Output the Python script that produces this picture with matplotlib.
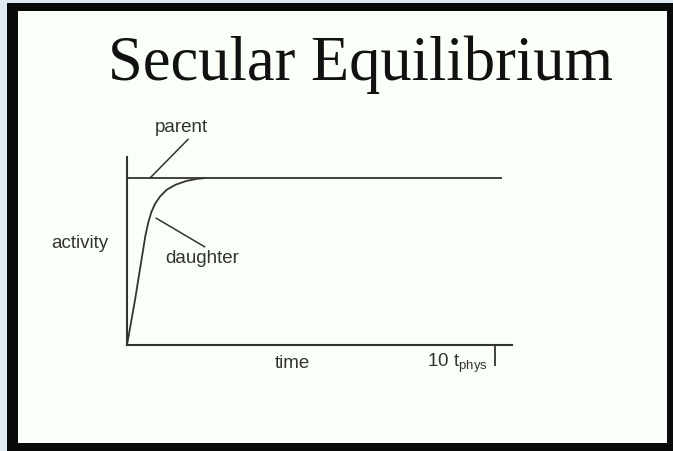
import matplotlib
matplotlib.use("Agg")
import matplotlib.pyplot as plt
from matplotlib.patches import Rectangle

# ---- data (time in units of t_phys, activity relative to parent) ----
parent_t = [0.0, 10.2]
parent_a = [1.0, 1.0]
daughter_t = [0.0, 0.217, 0.50, 0.58, 0.66, 0.76, 0.90, 1.08, 1.32, 1.62, 1.90, 2.12]
daughter_a = [0.0, 0.269, 0.655, 0.735, 0.795, 0.845, 0.890, 0.930, 0.960, 0.983, 0.995, 1.0]
end_tick = [10]
title = "Secular Equilibrium"
ylabel = "activity"
xlabel = "time"
end_label = r"10 t$_{\mathregular{phys}}$"

W, H = 673, 451
fig = plt.figure(figsize=(W / 100, H / 100), dpi=100)
fig.patch.set_facecolor("#dfe9f2")

def px_rect(x0, y0, x1, y1, color):
    fig.patches.append(Rectangle((x0 / W, 1 - y1 / H), (x1 - x0) / W, (y1 - y0) / H,
                                 transform=fig.transFigure, facecolor=color,
                                 edgecolor="none", zorder=-10))

px_rect(7, 3, 673, 451, "#0a0a0a")
px_rect(18, 11, 667, 443, "#fafff7")

fig.text(360 / W, 1 - 80 / H, title, ha="center", va="baseline",
         family="Liberation Serif", fontsize=45, color="#111111")

# axes: x 0 -> px 127, 10 -> px 495 ; y 0 -> px 345, 1 -> px 178
x0p, x1p, y0p, y1p = 127, 512, 345, 157
ax = fig.add_axes([x0p / W, 1 - y0p / H, (x1p - x0p) / W, (y0p - y1p) / H])
ax.set_xlim(0, 10.46)
ax.set_ylim(0, 1.126)
ax.patch.set_visible(False)
for s in ("top", "right"):
    ax.spines[s].set_visible(False)
for s in ("left", "bottom"):
    ax.spines[s].set_color("#333333")
    ax.spines[s].set_linewidth(1.5)
ax.set_yticks([])
ax.set_xticks(end_tick)
ax.set_xticklabels([""])
ax.tick_params(axis="x", direction="out", length=15, width=1.3, color="#333333")

lc = "#333333"
ax.plot(parent_t, parent_a, color=lc, lw=1.3, clip_on=False, solid_capstyle="butt")
ax.plot(daughter_t, daughter_a, color=lc, lw=1.3, clip_on=False)

tf = dict(family="Liberation Sans", fontsize=13.5, color="#333333")
ax.annotate("parent", xy=(0.625, 1.0), xytext=(1.47, 1.30), ha="center", va="center",
            arrowprops=dict(arrowstyle="-", color=lc, lw=1.1, relpos=(0.7, 0.05),
                            shrinkA=0, shrinkB=0), annotation_clip=False, **tf)
ax.annotate("daughter", xy=(0.79, 0.76), xytext=(2.04, 0.52), ha="center", va="center",
            arrowprops=dict(arrowstyle="-", color=lc, lw=1.1, relpos=(0.6, 1.0),
                            shrinkA=0, shrinkB=0), annotation_clip=False, **tf)
ax.text(-1.28, 0.61, ylabel, ha="center", va="center", **tf)
ax.text(4.48, -0.108, xlabel, ha="center", va="center", **tf)
plt.rcParams["mathtext.fontset"] = "custom"
plt.rcParams["mathtext.rm"] = "Liberation Sans"
ax.text(9.81, -0.108, end_label, ha="right", va="center", **tf)

fig.savefig("out.png", dpi=100, facecolor=fig.get_facecolor())
